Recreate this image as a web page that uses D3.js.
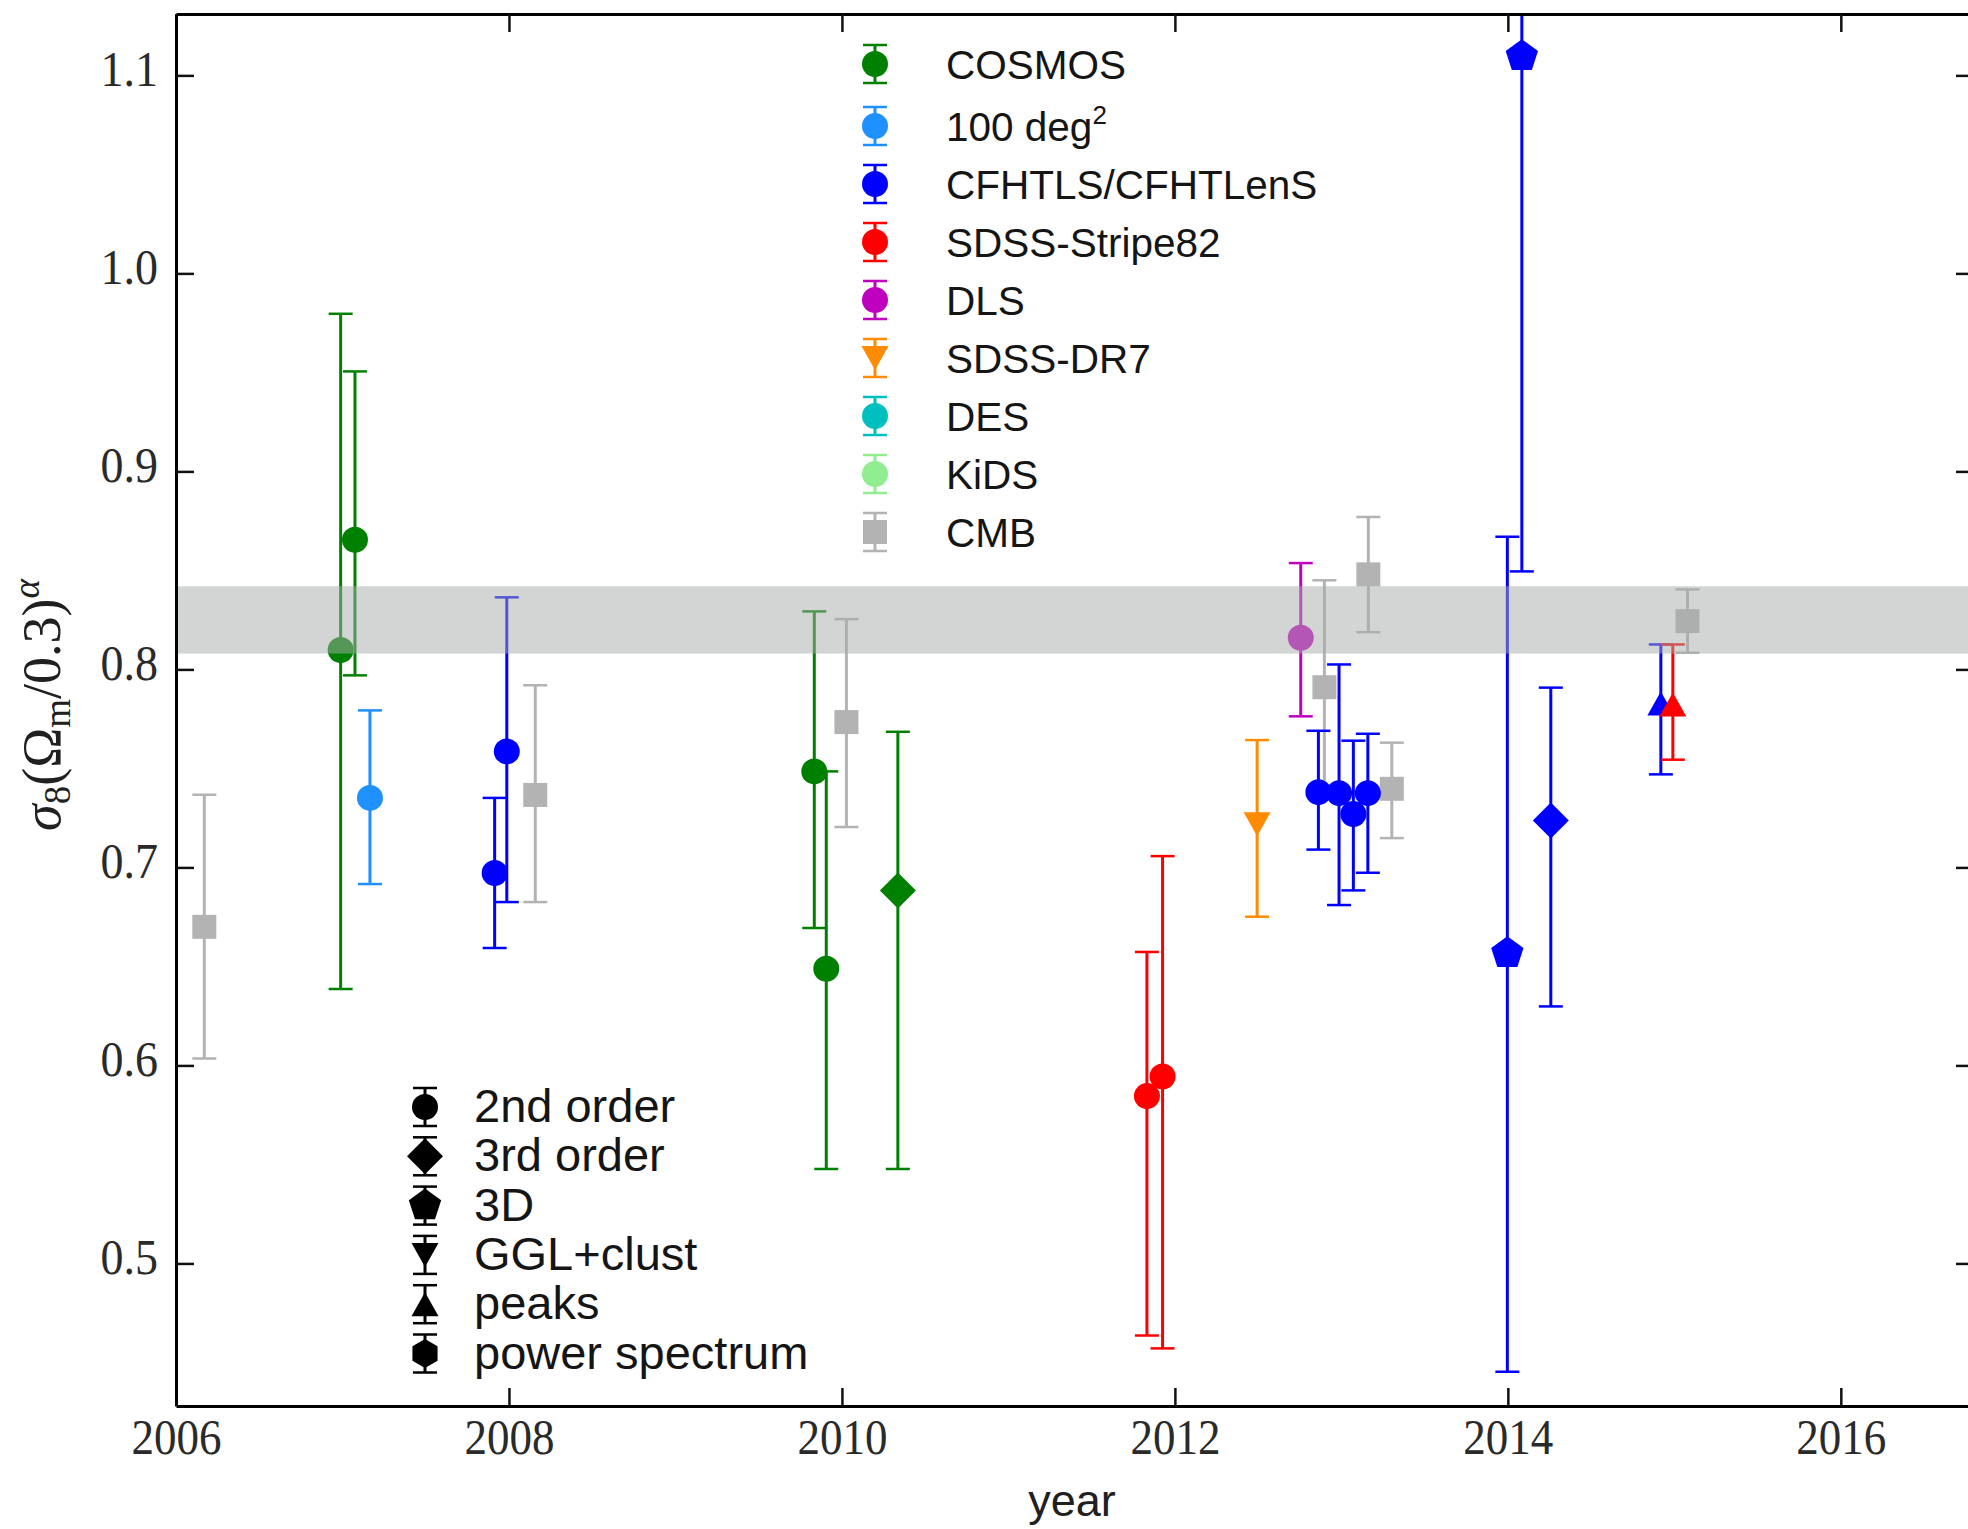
<!DOCTYPE html>
<html lang="en">
<head>
<meta charset="UTF-8">
<title>sigma8 constraints by year</title>
<script src="https://d3js.org/d3.v7.min.js"></script>
<style>
  body { margin: 0; background: #fff; }
  svg { display: block; }
  .axis .domain { stroke: #000; stroke-width: 3px; }
  .axis .tick line { stroke: #111; stroke-width: 2.5px; }
  .axis .tick text { font-family: "Liberation Serif", "Times New Roman", serif; font-size: 50px; fill: #2a2a2a; }
  .legend text { font-family: "Liberation Sans", Arial, sans-serif; fill: #151515; }
  .label { font-family: "Liberation Serif", serif; fill: #202020; }
</style>
</head>
<body>
<svg id="chart"></svg>
<script>
// surveys, in legend order
const surveys = ["COSMOS", "100 deg", "CFHTLS/CFHTLenS", "SDSS-Stripe82", "DLS", "SDSS-DR7", "DES", "KiDS", "CMB"];
const surveyColors = ["#008000", "#1e90ff", "#0000ff", "#ff0000", "#bf00bf", "#ff8c00", "#00bfbf", "#90ee90", "#b3b3b3"];
const surveyLegendMarker = ["circle", "circle", "circle", "circle", "circle", "triDown", "circle", "circle", "square"];

// methods (marker shapes)
const methods = ["2nd order", "3rd order", "3D", "GGL+clust", "peaks", "power spectrum"];
const methodMarker = ["circle", "diamond", "pentagon", "triDown", "triUp", "hexagon"];

// measurements: [year, value, lower end, upper end, method]
const cmbPoints = [
  [2006.17, 0.670, 0.6035, 0.7367, "CMB"],
  [2008.158, 0.7366, 0.6825, 0.792, "CMB"],
  [2010.027, 0.7734, 0.7204, 0.8254, "CMB"],
  [2012.898, 0.791, 0.737, 0.845, "CMB"],
  [2013.162, 0.848, 0.8188, 0.877, "CMB"],
  [2013.303, 0.7397, 0.7148, 0.763, "CMB"],
  [2015.079, 0.8244, 0.8084, 0.8404, "CMB"]
];
const cosmosPoints = [
  [2006.989, 0.8098, 0.6386, 0.9796, "2nd order"],
  [2007.075, 0.8655, 0.797, 0.9505, "2nd order"],
  [2009.834, 0.7485, 0.6694, 0.8293, "2nd order"],
  [2009.906, 0.6488, 0.5477, 0.7485, "2nd order"],
  [2010.336, 0.6884, 0.5477, 0.7685, "3rd order"]
];
const deg100Points = [
  [2007.165, 0.7351, 0.6916, 0.7793, "2nd order"]
];
const cfhtPoints = [
  [2007.914, 0.6972, 0.6593, 0.7351, "2nd order"],
  [2007.987, 0.7586, 0.6825, 0.8364, "2nd order"],
  [2012.862, 0.738, 0.709, 0.769, "2nd order"],
  [2012.986, 0.7375, 0.681, 0.8025, "2nd order"],
  [2013.072, 0.727, 0.6884, 0.764, "2nd order"],
  [2013.159, 0.7375, 0.6973, 0.7675, "2nd order"],
  [2013.997, 0.6567, 0.4453, 0.867, "3D"],
  [2014.084, 1.1097, 0.8495, 1.37, "3D"],
  [2014.258, 0.7237, 0.6298, 0.7908, "3rd order"],
  [2014.919, 0.7828, 0.747, 0.8126, "peaks"]
];
const stripe82Points = [
  [2011.832, 0.5845, 0.4636, 0.6573, "2nd order"],
  [2011.926, 0.5944, 0.4571, 0.7057, "2nd order"],
  [2014.991, 0.7823, 0.7544, 0.8126, "peaks"]
];
const dlsPoints = [
  [2012.756, 0.816, 0.7763, 0.8537, "2nd order"]
];
const dr7Points = [
  [2012.494, 0.7218, 0.6751, 0.7643, "GGL+clust"]
];
const desPoints = [];
const kidsPoints = [];

// Planck-like band
const bandRange = [0.808, 0.842];

const xTicks = [2006, 2008, 2010, 2012, 2014, 2016];
const yTicks = [0.5, 0.6, 0.7, 0.8, 0.9, 1.0, 1.1];

const width = 1968, height = 1529;
const plot = { left: 176, right: 1974, top: 14, bottom: 1406 };

const svg = d3.select("#chart").attr("width", width).attr("height", height);

const x = d3.scaleLinear().domain([2006, 2016.8]).range([plot.left, plot.right]);
const y = d3.scaleLinear().domain([0.428, 1.131]).range([plot.bottom, plot.top]);

svg.append("defs").append("clipPath").attr("id", "plotclip")
  .append("rect")
  .attr("x", plot.left).attr("y", plot.top)
  .attr("width", plot.right - plot.left).attr("height", plot.bottom - plot.top);

// marker outlines, centred on 0,0
function poly(pts) { return "M" + pts.map(p => p[0].toFixed(2) + "," + p[1].toFixed(2)).join("L") + "Z"; }
function ngon(n, r, rot) {
  return poly(d3.range(n).map(i => {
    const a = rot + i * 2 * Math.PI / n;
    return [r * Math.sin(a), -r * Math.cos(a)];
  }));
}
function markerPath(shape) {
  switch (shape) {
    case "square": return poly([[-12, -12], [12, -12], [12, 12], [-12, 12]]);
    case "diamond": return poly([[0, -18], [18, 0], [0, 18], [-18, 0]]);
    case "pentagon": return ngon(5, 17, 0);
    case "hexagon": return ngon(6, 14.5, 0);
    case "triUp": return poly([[0, -12], [13.5, 12], [-13.5, 12]]);
    case "triDown": return poly([[0, 12], [13.5, -12], [-13.5, -12]]);
    default: return d3.symbol(d3.symbolCircle, Math.PI * 13 * 13)();
  }
}

const dataLayer = svg.append("g").attr("clip-path", "url(#plotclip)");

function drawSeries(points, color) {
  points.forEach(p => {
    const [yr, val, lo, hi, method] = p;
    const g = dataLayer.append("g");
    const cx = x(yr);
    g.append("line")
      .attr("x1", cx).attr("x2", cx).attr("y1", y(lo)).attr("y2", y(hi))
      .attr("stroke", color).attr("stroke-width", 3);
    [lo, hi].forEach(v => {
      g.append("line")
        .attr("x1", cx - 12).attr("x2", cx + 12).attr("y1", y(v)).attr("y2", y(v))
        .attr("stroke", color).attr("stroke-width", 2.5);
    });
    const shape = method === "CMB" ? "square" : methodMarker[methods.indexOf(method)];
    g.append("path")
      .attr("d", markerPath(shape))
      .attr("transform", `translate(${cx},${y(val)})`)
      .attr("fill", color);
  });
}

const seriesList = [cmbPoints, cosmosPoints, deg100Points, cfhtPoints, stripe82Points, dlsPoints, dr7Points, desPoints, kidsPoints];
const seriesColor = [surveyColors[8], surveyColors[0], surveyColors[1], surveyColors[2], surveyColors[3], surveyColors[4], surveyColors[5], surveyColors[6], surveyColors[7]];
seriesList.forEach((s, i) => drawSeries(s, seriesColor[i]));

// shaded band, drawn over the points
svg.append("rect")
  .attr("x", plot.left).attr("width", plot.right - plot.left)
  .attr("y", y(bandRange[1])).attr("height", y(bandRange[0]) - y(bandRange[1]))
  .attr("fill", "#a7aba9").attr("opacity", 0.5);

// axes
const xFmt = d3.format("d"), yFmt = d3.format(".1f");
const gx = svg.append("g").attr("class", "axis").attr("transform", `translate(0,${plot.bottom})`)
  .call(d3.axisBottom(x).tickValues(xTicks).tickFormat(xFmt).tickSizeInner(-18).tickSizeOuter(0).tickPadding(13));
gx.selectAll(".tick text").attr("transform", "scale(0.9,1)");

svg.append("g").attr("class", "axis").attr("transform", `translate(0,${plot.top})`)
  .call(d3.axisTop(x).tickValues(xTicks).tickFormat("").tickSizeInner(-18).tickSizeOuter(0));

const gy = svg.append("g").attr("class", "axis").attr("transform", `translate(${plot.left},0)`)
  .call(d3.axisLeft(y).tickValues(yTicks).tickFormat(yFmt).tickSizeInner(-18).tickSizeOuter(0));
gy.selectAll(".tick text").attr("x", 0).attr("dy", "0.2em").attr("transform", "translate(-18,0) scale(0.92,1)");

svg.append("g").attr("class", "axis").attr("transform", `translate(${plot.right},0)`)
  .call(d3.axisRight(y).tickValues(yTicks).tickFormat("").tickSizeInner(-18).tickSizeOuter(0));

// axis labels
svg.append("text").attr("class", "label")
  .attr("x", 1072).attr("y", 1516)
  .attr("text-anchor", "middle")
  .style("font-family", "Liberation Sans, Arial, sans-serif")
  .style("font-size", "45px")
  .text("year");

const ylab = svg.append("text").attr("class", "label")
  .attr("transform", "translate(60,705) rotate(-90)")
  .attr("text-anchor", "middle")
  .style("font-size", "54px");
ylab.append("tspan").style("font-style", "italic").text("σ");
ylab.append("tspan").style("font-size", "37px").attr("dy", 10).text("8");
ylab.append("tspan").attr("dy", -10).text("(Ω");
ylab.append("tspan").style("font-size", "37px").attr("dy", 10).text("m");
ylab.append("tspan").attr("dy", -10).text("/0.3)");
ylab.append("tspan").style("font-size", "37px").style("font-style", "italic").attr("dy", -21).text("α");

// legend helper
function legendEntry(parent, shape, color, capHalf) {
  parent.append("line").attr("x1", 0).attr("x2", 0).attr("y1", -19).attr("y2", 19)
    .attr("stroke", color).attr("stroke-width", 3);
  [-19, 19].forEach(v => parent.append("line")
    .attr("x1", -capHalf).attr("x2", capHalf).attr("y1", v).attr("y2", v)
    .attr("stroke", color).attr("stroke-width", 2.5));
  parent.append("path").attr("d", markerPath(shape)).attr("fill", color);
}

// survey legend
const legTop = svg.append("g").attr("class", "legend");
surveys.forEach((name, i) => {
  const rowY = 64 + i * 58 + (i > 0 ? 4 : 0);
  const g = legTop.append("g").attr("transform", `translate(875,${rowY})`);
  legendEntry(g, surveyLegendMarker[i], surveyColors[i], 12);
  const t = g.append("text").attr("x", 71).attr("y", 15).style("font-size", "40.5px").text(name);
  if (name === "100 deg") t.append("tspan").attr("dy", -17).style("font-size", "26px").text("2");
});

// method legend
const legBot = svg.append("g").attr("class", "legend");
methods.forEach((name, i) => {
  const rowY = 1107 + i * 49.3;
  const g = legBot.append("g").attr("transform", `translate(425,${rowY})`);
  legendEntry(g, methodMarker[i], "#000", 12);
  g.append("text").attr("x", 49).attr("y", 15).style("font-size", "47px").text(name);
});
</script>
</body>
</html>
